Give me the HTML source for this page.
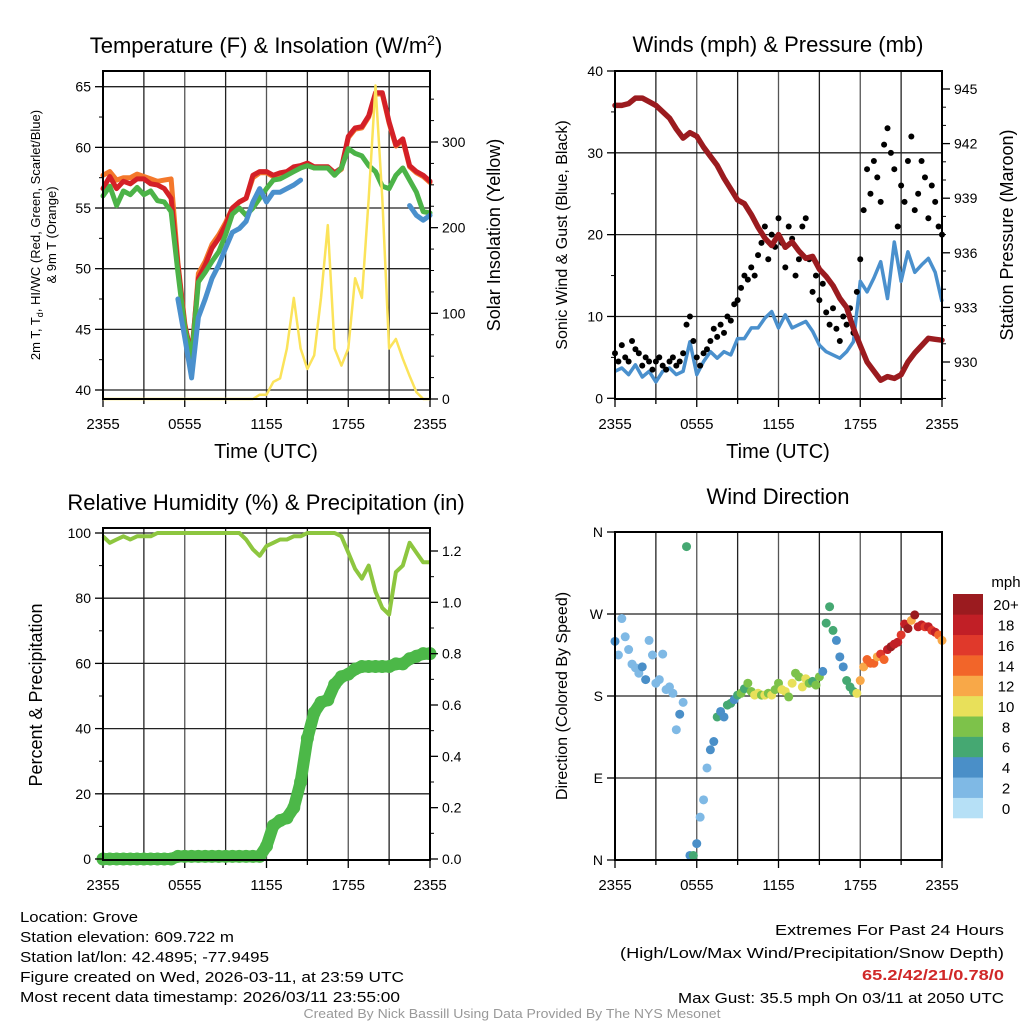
<!DOCTYPE html>
<html><head><meta charset="utf-8"><style>
html,body{margin:0;padding:0;background:#fff}
svg{display:block;font-family:"Liberation Sans",Arial,sans-serif}
</style></head><body>
<svg id="chart" width="1024" height="1024" viewBox="0 0 1024 1024" xmlns="http://www.w3.org/2000/svg">
<rect x="0" y="0" width="1024" height="1024" fill="#fff"/>
<g id="layer"></g>
<g font-size="15" fill="#000">
<text x="20" y="922" textLength="118" lengthAdjust="spacingAndGlyphs">Location: Grove</text>
<text x="20" y="942" textLength="214" lengthAdjust="spacingAndGlyphs">Station elevation: 609.722 m</text>
<text x="20" y="962" textLength="249" lengthAdjust="spacingAndGlyphs">Station lat/lon: 42.4895; -77.9495</text>
<text x="20" y="982" textLength="384" lengthAdjust="spacingAndGlyphs">Figure created on Wed, 2026-03-11, at 23:59 UTC</text>
<text x="20" y="1002" textLength="380" lengthAdjust="spacingAndGlyphs">Most recent data timestamp: 2026/03/11 23:55:00</text>
</g>
<g font-size="15" fill="#000" text-anchor="end">
<text x="1004" y="935" textLength="229" lengthAdjust="spacingAndGlyphs">Extremes For Past 24 Hours</text>
<text x="1004" y="958" textLength="384" lengthAdjust="spacingAndGlyphs">(High/Low/Max Wind/Precipitation/Snow Depth)</text>
<text x="1004" y="980" textLength="142" lengthAdjust="spacingAndGlyphs" fill="#d02828" font-weight="bold">65.2/42/21/0.78/0</text>
<text x="1004" y="1003" textLength="326" lengthAdjust="spacingAndGlyphs">Max Gust: 35.5 mph On 03/11 at 2050 UTC</text>
</g>
<text x="512" y="1018" font-size="12.5" fill="#999" text-anchor="middle" textLength="417" lengthAdjust="spacingAndGlyphs">Created By Nick Bassill Using Data Provided By The NYS Mesonet</text>
</svg>
<script>
// ---- data (half-hour steps from 2355 UTC) ----
const timeLabels = ["2355","0555","1155","1755","2355"];
const tempRed = [56.6,57.6,56.6,57.2,57.0,57.4,57.4,57.0,56.9,56.6,55.8,50.3,45.3,42.9,49.2,50.3,51.7,52.5,53.6,55.0,55.5,55.8,57.7,58.0,58.0,57.7,57.9,58.0,58.4,58.5,58.7,58.4,58.4,58.4,57.9,58.3,60.9,61.6,61.7,62.6,64.5,64.5,62.1,60.2,60.7,58.5,58.0,57.7,57.2];
const temp9m = [57.7,58.0,57.3,57.5,57.5,57.8,57.6,57.4,57.2,57.3,57.4,50.5,45.5,42.5,49.6,50.6,52.0,52.8,53.8,55.0,55.5,55.8,57.5,57.9,57.9,57.6,57.8,57.9,58.3,58.4,58.6,58.3,58.3,58.3,57.8,58.2,60.8,61.5,61.6,62.5,64.4,64.4,62.0,60.1,60.6,58.4,57.9,57.6,57.1];
const hiwc = [56.0,56.8,55.2,56.4,56.1,56.7,56.1,56.4,55.6,55.5,54.7,49.7,45.1,42.6,48.9,49.7,50.6,51.4,52.8,54.5,55.0,54.4,55.0,55.8,56.6,57.3,57.4,57.7,58.0,58.3,58.5,58.3,58.3,58.3,57.7,58.3,59.9,59.5,59.3,58.5,58.0,56.8,56.6,57.7,58.3,57.3,56.3,54.7,54.6];
const dewpt = [null,null,null,null,null,null,null,null,null,null,null,47.5,44.3,41.0,46.0,47.5,49.2,50.3,51.7,53.0,53.3,53.9,55.5,56.6,55.5,56.3,56.3,56.6,56.9,57.3,null,null,null,null,null,null,null,null,null,null,null,null,null,null,null,55.2,54.4,54.0,54.4];
const solar = [0,0,0,0,0,0,0,0,0,0,0,0,0,0,0,0,0,0,0,0,0,0,0,5,5,20,24,59,118,59,35,51,118,203,59,39,59,141,118,234,366,234,59,70,47,27,8,0,0];
const windSpd = [3.3,3.7,2.9,4.1,2.6,3.3,2.0,3.3,3.7,2.9,3.3,6.9,2.9,4.5,5.7,4.9,5.7,5.3,7.3,7.3,8.6,8.6,9.8,10.6,8.6,10.2,8.6,9.0,9.4,8.2,6.5,5.7,5.3,4.9,5.7,6.9,14.3,13.0,14.7,16.7,12.2,19.1,14.3,17.9,15.4,16.3,17.1,15.4,11.8];
const pressure = [944.1,944.1,944.2,944.5,944.5,944.3,944.1,943.75,943.4,942.8,942.3,942.6,942.4,941.8,941.3,940.8,940.1,939.5,938.9,938.7,938.1,937.4,936.8,936.4,937.0,936.3,936.6,936.1,935.7,935.8,935.1,934.7,934.2,933.5,933.0,931.85,930.9,930.0,929.5,929.0,929.2,929.1,929.3,930.0,930.5,930.9,931.3,931.25,931.2];
const rh = [99,97,98,99,98,99,99,99,100,100,100,100,100,100,100,100,100,100,100,100,100,98,95,93,96,97,98,98,99,99,100,100,100,100,100,99,94,89,86,90,82,77,75,88,90,97,94,91,91];
const precip = [0,0,0,0,0,0,0,0,0,0,0,0.01,0.01,0.01,0.01,0.01,0.01,0.01,0.01,0.01,0.01,0.01,0.01,0.01,0.05,0.13,0.15,0.16,0.2,0.3,0.47,0.57,0.61,0.62,0.68,0.71,0.72,0.74,0.75,0.75,0.75,0.75,0.75,0.76,0.76,0.78,0.79,0.8,0.8];
// quarter-hour steps
const gust = [5.5,4.5,6.5,5,4.5,7,6,5.5,4,5,4.5,3.5,4.5,5,4,3.5,4.5,5,4,4.5,5.5,9,10,7,5,4,5.5,6,7,8.5,7.5,9,8,10,9.5,11.5,12,13.5,15,14.5,16,15,17.5,19,21,17,20,18.5,22,19,16,21,19.5,15,17,21,22,17,13,15,12,14,10.5,9,11,8.5,7,10,9,11,8,13,17,23,28,25,29,27,24,31,33,30,28,21,26,24,29,32,23,25,29,27,22,26,24,21,20];
const windDir = [240,225,265,245,231,215,211,205,212,198,241,225,194,198,226,187,190,183,143,160,173,344,5,5,18,47,66,101,121,130,157,163,157,170,172,176,181,183,188,194,185,181,183,181,181,183,181,187,194,187,185,179,194,205,201,190,199,194,196,192,201,207,260,278,252,241,223,212,197,190,185,183,197,212,220,216,216,223,226,220,231,234,237,239,247,259,254,263,269,256,258,256,256,252,250,247,241];
const dirSpeed = [4,2,2,2,2,2,2,2,4,4,2,2,2,2,2,2,2,2,2,4,2,6,4,6,4,2,2,2,4,4,6,4,4,6,6,4,6,8,6,8,8,10,10,8,10,8,10,8,8,10,10,8,10,8,8,10,10,8,6,8,8,4,6,6,6,4,4,4,6,6,6,10,12,12,14,14,14,12,16,14,18,20,18,18,16,18,20,12,20,18,18,16,18,16,18,14,12];
const speedBins = ["0","2","4","6","8","10","12","14","16","18","20+"];
const binColors = ["#b6e0f6","#7fb9e5","#4a8fc8","#45a872","#7dc24a","#e8e05a","#f8a848","#f26529","#e0392b","#c11f26","#9b1b1f"];

// ---- helpers ----
const NS="http://www.w3.org/2000/svg";
const layer=document.getElementById('layer');
function mk(tag,attrs,parent){const e=document.createElementNS(NS,tag);for(const k in attrs)e.setAttribute(k,attrs[k]);(parent||layer).appendChild(e);return e;}
function txt(s,attrs,parent){const e=mk('text',attrs,parent);e.textContent=s;return e;}
function lin(d0,d1,r0,r1){return v=>r0+(v-d0)*(r1-r0)/(d1-d0);}
function pathFrom(vals,dt,xs,ys){let d="",pen=false;vals.forEach((v,i)=>{if(v===null){pen=false;return;}d+=(pen?"L":"M")+xs(i*dt).toFixed(1)+","+ys(v).toFixed(1);pen=true;});return d;}

function frame(x0,x1,y0,y1,name){
  const g=mk('g',{});
  
  
  const xs=lin(0,24,x0,x1);
  for(let h=3;h<24;h+=3){mk('line',{x1:xs(h),x2:xs(h),y1:y0,y2:y1,stroke:h%6===0?'#555':'#222','stroke-width':1.3},g);}
  for(let h=0;h<=24;h+=3){mk('line',{x1:xs(h),x2:xs(h),y1:y1,y2:y1+(h%6===0?8:5),stroke:'#000','stroke-width':1.3},g);}
  timeLabels.forEach((s,i)=>{const t=txt(s,{x:xs(i*6),y:y1+30,'font-size':15,'text-anchor':'middle'},g);
    
    });
  return {g,xs};
}
function border(x0,x1,y0,y1,name){const r=mk('rect',{x:x0,y:y0,width:x1-x0,height:y1-y0,fill:'none',stroke:'#000','stroke-width':2});
  
  }
function yAxis(vals,labels,ys,x,side,minor,name){
  const g=mk('g',{});
  
  
  const dir=side==='left'?-1:1;
  vals.forEach((v,i)=>{mk('line',{x1:x,x2:x+dir*8,y1:ys(v),y2:ys(v),stroke:'#000','stroke-width':1.3},g);
    txt(labels[i],{x:x+dir*12,y:ys(v)+5,'font-size':14,'text-anchor':side==='left'?'end':'start'},g);});
  (minor||[]).forEach(v=>mk('line',{x1:x,x2:x+dir*4,y1:ys(v),y2:ys(v),stroke:'#000','stroke-width':1},g));
}
function hgrid(vals,ys,x0,x1){vals.forEach(v=>mk('line',{x1:x0,x2:x1,y1:ys(v),y2:ys(v),stroke:'#222','stroke-width':1.3}));}

// ===== Panel 1: Temperature =====
(function(){
  const x0=103,x1=430,y0=71,y1=399;
  const f=frame(x0,x1,y0,y1,'temperature-panel');const xs=f.xs;
  const yT=lin(40,65,390,86.7), yS=lin(0,300,399,142);
  hgrid([40,45,50,55,60,65],yT,x0,x1);
  const series=[[temp9m,'#f4782b','temp-9m-line'],[tempRed,'#d42027','temp-2m-line'],[hiwc,'#4cb348','heat-index-windchill-line'],[dewpt,'#4a90cd','dewpoint-line']];
  series.forEach(s=>{const p=mk('path',{d:pathFrom(s[0],0.5,xs,yT),fill:'none',stroke:s[1],'stroke-width':5,'stroke-linejoin':'round','stroke-linecap':'round'});
    
    });
  const ps=mk('path',{d:pathFrom(solar,0.5,xs,yS),fill:'none',stroke:'#fbe35a','stroke-width':2.5,'stroke-linejoin':'round'});
  
  
  border(x0,x1,y0,y1,'temperature-panel');
  const mT=[];for(let v=40;v<=65;v+=2.5)if(v%5)mT.push(v);
  yAxis([40,45,50,55,60,65],["40","45","50","55","60","65"],yT,x0,'left',mT,'temp-y-axis');
  const mS=[];for(let v=25;v<360;v+=25)if(v%100)mS.push(v);
  yAxis([0,100,200,300],["0","100","200","300"],yS,x1,'right',mS,'solar-y-axis');
  const t=txt('Temperature (F) & Insolation (W/m',{x:266,y:53,'font-size':22,'text-anchor':'middle'});
  const sup=mk('tspan',{dy:-8,'font-size':14},t);sup.textContent='2';
  const cl=mk('tspan',{dy:8},t);cl.textContent=')';
  
  
  const xt=txt('Time (UTC)',{x:266,y:458,'font-size':20,'text-anchor':'middle'});
  
  
  const yt=mk('text',{transform:'translate(40,235) rotate(-90)','font-size':13,'text-anchor':'middle'});
  yt.innerHTML='2m T, T<tspan dy="3" font-size="9">d</tspan><tspan dy="-3">, HI/WC (Red, Green, Scarlet/Blue)</tspan>';
  
  
  const yt2=txt('& 9m T (Orange)',{transform:'translate(56,235) rotate(-90)','font-size':13,'text-anchor':'middle'});
  
  
  const rt=txt('Solar Insolation (Yellow)',{transform:'translate(500,235) rotate(-90)','font-size':18,'text-anchor':'middle'});
  
  
})();

// ===== Panel 2: Winds =====
(function(){
  const x0=615,x1=942,y0=71,y1=399;
  const f=frame(x0,x1,y0,y1,'winds-panel');const xs=f.xs;
  const yW=lin(0,40,398.3,71), yP=lin(930,945,362,89);
  hgrid([10,20,30],yW,x0,x1);
  const pw=mk('path',{d:pathFrom(windSpd,0.5,xs,yW),fill:'none',stroke:'#4a90cd','stroke-width':3.5,'stroke-linejoin':'round'});
  
  
  const gg=mk('g',{});
  
  
  gust.forEach((v,i)=>{const c=mk('circle',{cx:xs(i*0.25),cy:yW(v),r:3,fill:'#000'},gg);
    
    });
  const pp=mk('path',{d:pathFrom(pressure,0.5,xs,yP),fill:'none',stroke:'#9b1b1f','stroke-width':5.5,'stroke-linejoin':'round','stroke-linecap':'round'});
  
  
  border(x0,x1,y0,y1,'winds-panel');
  yAxis([0,10,20,30,40],["0","10","20","30","40"],yW,x0,'left',[5,15,25,35],'wind-y-axis');
  const mP=[];for(let v=928;v<=946;v++)if(v%3)mP.push(v);
  yAxis([930,933,936,939,942,945],["930","933","936","939","942","945"],yP,x1,'right',mP.filter(v=>yP(v)>y0&&yP(v)<y1),'pressure-y-axis');
  const t=txt('Winds (mph) & Pressure (mb)',{x:778,y:52,'font-size':22,'text-anchor':'middle'});
  
  
  const xt=txt('Time (UTC)',{x:778,y:458,'font-size':20,'text-anchor':'middle'});
  
  
  const yt=txt('Sonic Wind & Gust (Blue, Black)',{transform:'translate(567,235) rotate(-90)','font-size':16,'text-anchor':'middle'});
  
  
  const rt=txt('Station Pressure (Maroon)',{transform:'translate(1013,235) rotate(-90)','font-size':18,'text-anchor':'middle'});
  
  
})();

// ===== Panel 3: RH & Precip =====
(function(){
  const x0=103,x1=430,y0=528,y1=860;
  const f=frame(x0,x1,y0,y1,'humidity-panel');const xs=f.xs;
  const yR=lin(0,100,859,533), yPr=lin(0,1.2,859,551);
  hgrid([20,40,60,80,100],yR,x0,x1);
  const pl=mk('path',{d:pathFrom(precip,0.5,xs,yPr),fill:'none',stroke:'#4cb848','stroke-width':12,'stroke-linejoin':'round','stroke-linecap':'round'});
  
  
  precip.forEach((v,i)=>{const c=mk('circle',{cx:xs(i*0.5),cy:yPr(v),r:6.5,fill:'#4cb848'});
    
    });
  const pr=mk('path',{d:pathFrom(rh,0.5,xs,yR),fill:'none',stroke:'#8dc63f','stroke-width':4,'stroke-linejoin':'round'});
  
  
  border(x0,x1,y0,y1,'humidity-panel');
  yAxis([0,20,40,60,80,100],["0","20","40","60","80","100"],yR,x0,'left',[10,30,50,70,90],'rh-y-axis');
  yAxis([0,0.2,0.4,0.6,0.8,1.0,1.2],["0.0","0.2","0.4","0.6","0.8","1.0","1.2"],yPr,x1,'right',[0.1,0.3,0.5,0.7,0.9,1.1],'precip-y-axis');
  const t=txt('Relative Humidity (%) & Precipitation (in)',{x:266,y:510,'font-size':22,'text-anchor':'middle'});
  
  
  const yt=txt('Percent & Precipitation',{transform:'translate(42,695) rotate(-90)','font-size':18,'text-anchor':'middle'});
  
  
})();

// ===== Panel 4: Wind Direction =====
(function(){
  const x0=615,x1=942,y0=532,y1=860;
  const f=frame(x0,x1,y0,y1,'direction-panel');const xs=f.xs;
  const yD=lin(0,360,860,532);
  hgrid([90,180,270,360],yD,x0,x1);
  const n=Math.min(windDir.length,dirSpeed.length);
  for(let i=0;i<n;i++){
    const b=Math.min(10,Math.floor(dirSpeed[i]/2));
    const c=mk('circle',{cx:xs(i*0.25),cy:yD(windDir[i]),r:4.5,fill:binColors[b]});
    
    
  }
  border(x0,x1,y0,y1,'direction-panel');
  yAxis([0,90,180,270,360],["N","E","S","W","N"],yD,x0,'left',[],'direction-y-axis');
  const t=txt('Wind Direction',{x:778,y:504,'font-size':22,'text-anchor':'middle'});
  
  
  const yt=txt('Direction (Colored By Speed)',{transform:'translate(567,696) rotate(-90)','font-size':16,'text-anchor':'middle'});
  
  
  const cb=mk('g',{});
  
  
  const bh=(818-594)/speedBins.length;
  speedBins.forEach((s,i)=>{
    const yy=818-(i+1)*bh;
    const r=mk('rect',{x:953,y:yy,width:30,height:bh+0.3,fill:binColors[i]},cb);
    
    
    txt(s,{x:1006,y:yy+bh/2+6,'font-size':15,'text-anchor':'middle'},cb);
  });
  txt('mph',{x:1006,y:587,'font-size':15,'text-anchor':'middle'},cb);
})();
</script>
</body></html>
